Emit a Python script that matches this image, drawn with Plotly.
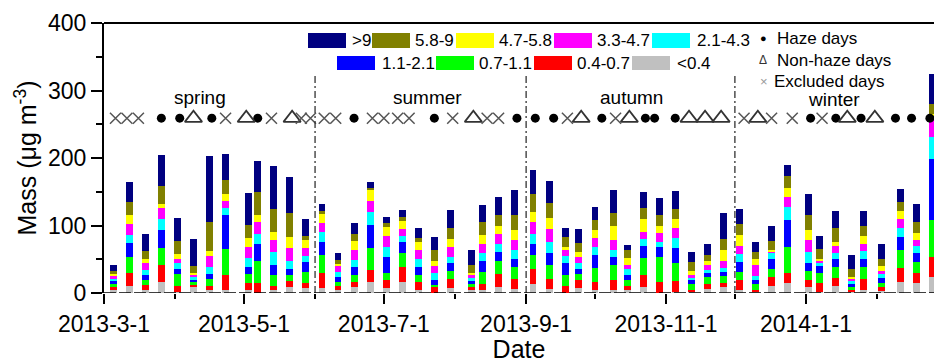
import plotly.graph_objects as go

# ---------------- data ----------------
dates = [
    "2013-03-05", "2013-03-12", "2013-03-19", "2013-03-26", "2013-04-02", "2013-04-09", "2013-04-16",
    "2013-04-23", "2013-05-03", "2013-05-07", "2013-05-14", "2013-05-21", "2013-05-28",
    "2013-06-04", "2013-06-11", "2013-06-18", "2013-06-25", "2013-07-02", "2013-07-09", "2013-07-16",
    "2013-07-23", "2013-07-30", "2013-08-08", "2013-08-13", "2013-08-20", "2013-08-27",
    "2013-09-04", "2013-09-11", "2013-09-18", "2013-09-24", "2013-10-01", "2013-10-09", "2013-10-15",
    "2013-10-22", "2013-10-29", "2013-11-05", "2013-11-12", "2013-11-19", "2013-11-26",
    "2013-12-03", "2013-12-10", "2013-12-17", "2013-12-24", "2014-01-02", "2014-01-07", "2014-01-14",
    "2014-01-21", "2014-01-26", "2014-02-03", "2014-02-11", "2014-02-18", "2014-02-25",
]

size_lt04 = [5, 10, 5, 16, 1, 10, 4, 5, 4, 0, 4, 9, 7,
             8, 4, 9, 16, 8, 16, 5, 0, 8, 4, 4, 9, 6,
             13, 6, 0, 8, 4, 5, 4, 9, 0, 2, 1, 6, 9,
             5, 1, 11, 15, 9, 2, 11, 1, 5, 3, 17, 15, 24]
size_04_07 = [3.5, 19, 7, 25, 10, 2, 7, 21, 11, 15, 6, 9, 8,
              21, 7, 8, 18, 12, 22, 11, 10, 13, 5, 10, 19, 15,
              22, 15, 11, 11, 12, 15, 7, 17, 16, 16, 4, 8, 6,
              14, 4, 12, 15, 11, 13, 11, 3, 16, 6, 20, 15, 30]
size_07_11 = [5, 25, 8, 25, 17, 4, 10, 39, 13, 33, 16, 8, 16,
              27, 6, 10, 33, 10, 22, 11, 2, 12, 5, 17, 19, 17,
              21, 20, 16, 9, 21, 21, 8, 26, 38, 27, 8, 9, 10,
              12, 8, 13, 38, 12, 14, 16, 5, 17, 6, 27, 16, 54]
size_11_21 = [4, 20, 7, 27, 8, 4, 7, 50, 11, 25, 15, 10, 15,
              19, 7, 11, 34, 23, 16, 11, 7, 11, 4, 16, 14, 13,
              16, 19, 18, 7, 19, 12, 7, 17, 14, 22, 6, 6, 6,
              15, 6, 15, 40, 13, 11, 13, 5, 13, 7, 19, 13, 91]
size_21_43 = [3.5, 12, 7, 17, 8, 5, 10, 11, 13, 14, 20, 12, 9,
              15, 7, 11, 19, 15, 9, 12, 10, 10, 4, 12, 11, 12,
              15, 16, 10, 9, 12, 11, 9, 11, 8, 15, 3, 5, 6,
              12, 6, 9, 19, 16, 4, 9, 4, 11, 6, 14, 10, 32]
size_33_47 = [4, 16, 11, 16, 6, 2, 17, 11, 16, 18, 17, 19, 11,
              13, 9, 14, 17, 16, 10, 13, 11, 14, 6, 13, 16, 15,
              18, 19, 9, 10, 14, 15, 7, 11, 13, 15, 5, 8, 11,
              12, 16, 2, 15, 18, 3, 10, 3, 11, 5, 13, 10, 27]
size_47_58 = [3.5, 13, 6, 6, 8, 3, 7, 9, 13, 11, 12, 16, 12,
              14, 3, 14, 15, 14, 11, 12, 8, 12, 2, 14, 11, 15,
              15, 16, 4, 7, 12, 21, 10, 18, 11, 12, 6, 6, 16,
              16, 10, 2, 13, 15, 3, 5, 2, 11, 7, 12, 10, 7]
size_58_9 = [3.5, 20, 11, 26, 19, 10, 43, 22, 20, 33, 35, 36, 6,
             5, 6, 10, 4, 5, 7, 7, 15, 16, 12, 19, 17, 22,
             27, 22, 15, 13, 14, 19, 11, 17, 16, 15, 13, 8, 16,
             16, 10, 13, 19, 22, 15, 21, 12, 15, 10, 13, 16, 15]
size_gt9 = [10, 30, 26, 46, 34, 40, 98, 38, 47, 47, 63, 53, 26,
            10, 10, 17, 8, 9, 10, 14, 20, 27, 22, 25, 26, 37,
            35, 33, 13, 21, 19, 34, 8, 24, 25, 27, 15, 17, 38,
            22, 15, 23, 16, 31, 20, 26, 22, 22, 23, 19, 27, 44]

size_bins = ["<0.4", "0.4-0.7", "0.7-1.1", "1.1-2.1", "2.1-4.3", "3.3-4.7", "4.7-5.8", "5.8-9", ">9"]
bin_values = [size_lt04, size_04_07, size_07_11, size_11_21, size_21_43,
              size_33_47, size_47_58, size_58_9, size_gt9]
bin_colors = ["#C0C0C0", "#FF0000", "#00FF00", "#0000FF", "#00FFFF",
              "#FF00FF", "#FFFF00", "#808000", "#000080"]

haze_days = ["2013-03-26", "2013-04-03", "2013-04-17", "2013-05-07", "2013-06-18", "2013-07-23",
             "2013-08-28", "2013-09-05", "2013-09-13", "2013-10-04", "2013-10-23", "2013-10-27",
             "2013-11-05", "2014-01-03", "2014-01-14", "2014-01-25", "2014-02-09", "2014-02-16",
             "2014-02-24"]
nonhaze_days = ["2013-04-09", "2013-05-02", "2013-05-22", "2013-08-09", "2013-09-25", "2013-10-16",
                "2013-11-11", "2013-11-18", "2013-11-25", "2013-12-11", "2014-01-19", "2014-01-31"]
excluded_days = ["2013-03-06", "2013-03-11", "2013-03-16", "2013-04-23", "2013-05-13", "2013-05-26",
                 "2013-05-30", "2013-06-05", "2013-06-10", "2013-06-26", "2013-07-01", "2013-07-07",
                 "2013-07-12", "2013-07-31", "2013-08-15", "2013-08-20", "2013-09-19", "2013-10-10",
                 "2013-12-05", "2013-12-17", "2013-12-26", "2014-01-08"]

season_names = ["spring", "summer", "autumn", "winter"]
season_label_dates = ["2013-04-12", "2013-07-20", "2013-10-17", "2014-01-13"]
season_label_y = [290, 290, 290, 286]
season_bounds = ["2013-06-01", "2013-09-01", "2013-12-01"]

tick_dates = ["2013-03-01", "2013-05-01", "2013-07-01", "2013-09-01", "2013-11-01", "2014-01-01"]
tick_labels = ["2013-3-1", "2013-5-1", "2013-7-1", "2013-9-1", "2013-11-1", "2014-1-1"]
minor_tick_dates = ["2013-04-01", "2013-06-01", "2013-08-01", "2013-10-01", "2013-12-01", "2014-02-01"]

# ---------------- layout constants ----------------
W, H = 934, 363
L, R, T, B = 104, 0, 23, 70
FONT = "Liberation Sans, Arial, sans-serif"
DAY_MS = 86400000
MARKER_ROW = 259


def px(x):
    return (x - L) / (W - L - R)


def py(y):
    return (H - B - y) / (H - T - B)


fig = go.Figure()

for name, vals, col in zip(size_bins, bin_values, bin_colors):
    fig.add_trace(go.Bar(x=dates, y=vals, name=name, width=3 * DAY_MS,
                         marker=dict(color=col, line=dict(width=0)), showlegend=False))

fig.add_trace(go.Scatter(x=haze_days, y=[MARKER_ROW] * len(haze_days), mode="markers",
                         marker=dict(symbol="circle", size=9, color="black"), showlegend=False))
fig.add_trace(go.Scatter(x=nonhaze_days, y=[MARKER_ROW] * len(nonhaze_days), mode="markers",
                         marker=dict(symbol="triangle-up-open", size=15, color="#333333",
                                     line=dict(width=1.8, color="#333333")), showlegend=False))
fig.add_trace(go.Scatter(x=excluded_days, y=[MARKER_ROW] * len(excluded_days), mode="markers",
                         marker=dict(symbol="x-thin-open", size=11, color="#555555",
                                     line=dict(width=1.5, color="#555555")), showlegend=False))

shapes = []
annotations = []

# season dividers
for d in season_bounds:
    shapes.append(dict(type="line", xref="x", yref="y", x0=d, x1=d, y0=0, y1=326,
                       line=dict(color="#333333", width=1.3, dash="7px,3px,2px,3px")))
# zero line (dashed)
shapes.append(dict(type="line", xref="paper", yref="y", x0=0, x1=1, y0=0, y1=0,
                   line=dict(color="black", width=1.5, dash="12px,3px"), layer="above"))
# top frame
shapes.append(dict(type="line", xref="paper", yref="paper", x0=0, x1=1, y0=1, y1=1,
                   line=dict(color="black", width=2)))

for name, d, yv in zip(season_names, season_label_dates, season_label_y):
    annotations.append(dict(x=d, y=yv, xref="x", yref="y", text=name, showarrow=False,
                            font=dict(family=FONT, size=19, color="black"),
                            xanchor="center", yanchor="middle"))

# custom legend: swatches
row1 = [(">9", 308, 352), ("5.8-9", 372, 415), ("4.7-5.8", 456, 499), ("3.3-4.7", 554, 597),
        ("2.1-4.3", 652, 697)]
row2 = [("1.1-2.1", 337, 382), ("0.7-1.1", 436, 479), ("0.4-0.7", 534, 577), ("<0.4", 632, 677)]
color_of = dict(zip(size_bins, bin_colors))
for row, (ytop, ybot) in ((row1, (33, 48)), (row2, (56, 70))):
    for label, sx, tx in row:
        shapes.append(dict(type="rect", xref="paper", yref="paper",
                           x0=px(sx), x1=px(sx + 38), y0=py(ybot), y1=py(ytop),
                           fillcolor=color_of[label], line=dict(width=0)))
        annotations.append(dict(x=px(tx - 2), y=py((ytop + ybot) / 2), xref="paper", yref="paper",
                                text=label, showarrow=False, xanchor="left", yanchor="middle",
                                font=dict(family=FONT, size=17, color="black")))

# marker legend
mk = [("●", 763, 38, 11, "black", "Haze days", 775),
      ("Δ", 763, 60, 12, "#333333", "Non-haze days", 775),
      ("×", 764, 81, 13, "#999999", "Excluded days", 772)]
for sym, x, y, s, c, label, tx in mk:
    annotations.append(dict(x=px(x), y=py(y), xref="paper", yref="paper", text=sym, showarrow=False,
                            xanchor="center", yanchor="middle", font=dict(family=FONT, size=s, color=c)))
    annotations.append(dict(x=px(tx), y=py(y), xref="paper", yref="paper", text=label, showarrow=False,
                            xanchor="left", yanchor="middle", font=dict(family=FONT, size=17, color="black")))

fig.update_layout(
    width=W, height=H, margin=dict(l=L, r=R, t=T, b=B, pad=0),
    barmode="stack", bargap=0,
    plot_bgcolor="white", paper_bgcolor="white",
    font=dict(family=FONT, color="black"),
    shapes=shapes, annotations=annotations, showlegend=False,
    xaxis=dict(type="date", range=["2013-03-01", "2014-02-25 19:00"],
               tickmode="array", tickvals=tick_dates, ticktext=tick_labels,
               ticks="outside", ticklen=10, tickwidth=1.6, tickcolor="black",
               tickfont=dict(family=FONT, size=23, color="black"),
               showline=False, showgrid=False, zeroline=False,
               minor=dict(tickmode="array", tickvals=minor_tick_dates, ticks="outside",
                          ticklen=5, tickwidth=1.6, tickcolor="black", showgrid=False),
               title=dict(text="Date", font=dict(family=FONT, size=25, color="black"), standoff=2),
               automargin=False),
    yaxis=dict(range=[0, 400], tickmode="array", tickvals=[0, 100, 200, 300, 400],
               ticks="outside", ticklen=11, tickwidth=1.6, tickcolor="black",
               tickfont=dict(family=FONT, size=23, color="black"),
               showline=True, linewidth=2, linecolor="black", showgrid=False, zeroline=False,
               minor=dict(tickmode="array", tickvals=[50, 150, 250, 350], ticks="outside",
                          ticklen=6, tickwidth=1.6, tickcolor="black", showgrid=False),
               title=dict(text="Mass (μg m<sup>-3</sup>)", font=dict(family=FONT, size=25, color="black"),
                          standoff=4),
               automargin=False),
)

fig.write_html("out.html")
